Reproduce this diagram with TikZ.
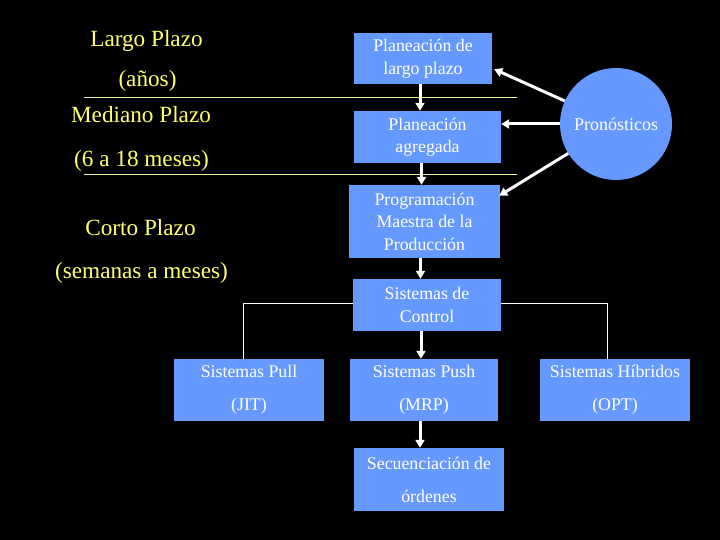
\documentclass[tikz,border=0pt]{standalone}
\usepackage{fontspec}
\setmainfont{Liberation Serif}
\usetikzlibrary{arrows.meta,calc}
\definecolor{boxblue}{RGB}{102,153,255}
\definecolor{ytext}{RGB}{255,255,110}
\definecolor{yline}{RGB}{240,240,150}
\begin{document}
\begin{tikzpicture}[x=1pt,y=-1pt,
  bx/.style={fill=boxblue,draw=none,inner sep=0pt,text=white,align=center,
    font=\fontsize{17.8}{22.5}\selectfont},
  wbx/.style={bx,font=\fontsize{17.8}{33}\selectfont},
  ytxt/.style={text=ytext,anchor=base,inner sep=0pt,font=\fontsize{23.2}{26}\selectfont},
  arr/.style={draw=white,line width=3pt,-{Triangle[length=8pt,width=9pt]}},
  thin/.style={draw=white,line width=0.8pt}]
\useasboundingbox[fill=black] (0,0) rectangle (720,540);
% left labels
\node[ytxt] (t1) at (146.5,47) {Largo Plazo};
\node[ytxt] (t2) at (147.5,87) {(años)};
\node[ytxt] (t3) at (141,123) {Mediano Plazo};
\node[ytxt] (t4) at (141.5,167) {(6 a 18 meses)};
\node[ytxt] (t5) at (140.5,236) {Corto Plazo};
\node[ytxt] (t6) at (141.5,278) {(semanas a meses)};
% yellow separators
\coordinate (l1a) at (84,97); \coordinate (l1b) at (517,97);
\coordinate (l2a) at (84,174); \coordinate (l2b) at (517,174);
\draw[yline,line width=0.8pt] (l1a) -- (l1b);
\draw[yline,line width=0.8pt] (l2a) -- (l2b);
% boxes
\node[bx,minimum width=138,minimum height=51] (lp) at (423,58.5) {Planeación de\\largo plazo};
\node[bx,minimum width=147,minimum height=52] (ag) at (427.5,137) {Planeación\\agregada};
\node[bx,minimum width=151,minimum height=73] (pm) at (424.5,221.5) {Programación\\Maestra de la\\Producción};
\node[bx,minimum width=148,minimum height=52] (sc) at (427,305) {Sistemas de\\Control};
\node[wbx,minimum width=150,minimum height=62] (pull) at (249,390) {Sistemas Pull\\(JIT)};
\node[wbx,minimum width=148,minimum height=62] (push) at (424,390) {Sistemas Push\\(MRP)};
\node[wbx,minimum width=150,minimum height=62] (hyb) at (615,390) {Sistemas Híbridos\\(OPT)};
\node[wbx,minimum width=150,minimum height=63] (seq) at (429,479.5) {Secuenciación de\\órdenes};
\node[circle,fill=boxblue,minimum size=112,inner sep=0pt,text=white,
  font=\fontsize{18}{21}\selectfont] (pr) at (616,124) {Pronósticos};
% vertical arrows
\draw[arr] ([xshift=-3pt]lp.south) -- ([xshift=-3pt]lp.south |- ag.north);
\draw[arr] ([xshift=-6pt]ag.south) -- ([xshift=-6pt]ag.south |- pm.north);
\draw[arr] ([xshift=-4pt]pm.south) -- ([xshift=-4pt]pm.south |- sc.north);
\draw[arr] ([xshift=-6pt]sc.south) -- ([xshift=-6pt]sc.south |- push.north);
\draw[arr] ([xshift=-9pt]seq.north |- push.south) -- ([xshift=-9pt]seq.north);
% forecast arrows
\draw[arr] (pr) -- ($(lp.south east)+(2,-15)$);
\draw[arr] (pr.west) -- (pr.west -| ag.east);
\draw[arr] (pr) -- ($(pm.north east)+(-1,11)$);
% thin connectors
\draw[thin] ([yshift=2pt]sc.west) -| ([xshift=-6pt]pull.north);
\draw[thin] ([yshift=2pt]sc.east) -| ([xshift=-8pt]hyb.north);
\end{tikzpicture}
\end{document}
